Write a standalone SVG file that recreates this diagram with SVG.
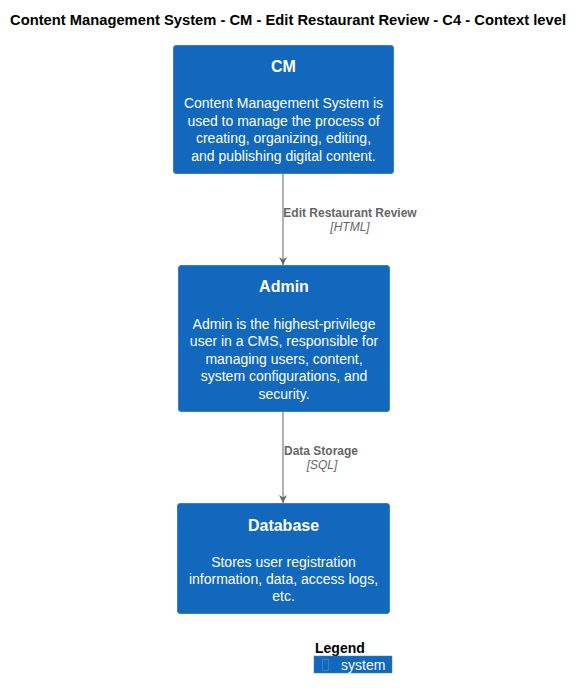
<svg xmlns="http://www.w3.org/2000/svg" width="583" height="699" viewBox="0 0 583 699">
<defs>
<style>
.box{fill:#1168BD;stroke:#3C7FC0;stroke-width:1}
.t{font-family:"Liberation Sans",Arial,sans-serif;fill:#FFFFFF;text-anchor:middle}
.h{font-size:16px;font-weight:bold}
.d{font-size:14px}
.e{stroke:#666666;stroke-width:1;fill:none}
.lbl{font-family:"Liberation Sans",Arial,sans-serif;fill:#666666;font-size:12px;text-anchor:middle}
</style>
<marker id="arr" viewBox="0 0 10 10" refX="10" refY="5" markerWidth="8" markerHeight="10" markerUnits="userSpaceOnUse" orient="auto">
<path d="M0,0 L10,5 L0,10 L3,5 Z" fill="#666666"/>
</marker>
</defs>
<rect width="583" height="699" fill="#FFFFFF"/>
<text x="288" y="24.5" font-family="Liberation Sans,Arial,sans-serif" font-size="14.5" font-weight="bold" text-anchor="middle" fill="#000000" textLength="556" lengthAdjust="spacingAndGlyphs">Content Management System - CM - Edit Restaurant Review - C4 - Context level</text>
<g id="connectors">
<path class="e" d="M283,173 L283,265" marker-end="url(#arr)"/>
<text class="lbl" x="350" y="217" font-weight="bold">Edit Restaurant Review</text>
<text class="lbl" x="350" y="231" font-style="italic">[HTML]</text>
<path class="e" d="M283,412 L283,503" marker-end="url(#arr)"/>
<text class="lbl" x="321" y="455" font-weight="bold">Data Storage</text>
<text class="lbl" x="322" y="469" font-style="italic">[SQL]</text>
</g>
<g id="cm">
<rect class="box" x="173.5" y="45.5" width="220" height="128" rx="2.5"/>
<text class="t h" x="283.5" y="72">CM</text>
<text class="t d" x="283.5" y="108">Content Management System is</text>
<text class="t d" x="283.5" y="126">used to manage the process of</text>
<text class="t d" x="283.5" y="143">creating, organizing, editing,</text>
<text class="t d" x="283.5" y="161">and publishing digital content.</text>
</g>
<g id="admin">
<rect class="box" x="178.5" y="265.5" width="211" height="146" rx="2.5"/>
<text class="t h" x="284" y="292">Admin</text>
<text class="t d" x="284" y="328.5">Admin is the highest-privilege</text>
<text class="t d" x="284" y="346">user in a CMS, responsible for</text>
<text class="t d" x="284" y="363.5">managing users, content,</text>
<text class="t d" x="284" y="381">system configurations, and</text>
<text class="t d" x="284" y="398.5">security.</text>
</g>
<g id="database">
<rect class="box" x="177.5" y="503.5" width="212" height="110" rx="2.5"/>
<text class="t h" x="283.5" y="531">Database</text>
<text class="t d" x="283.5" y="567">Stores user registration</text>
<text class="t d" x="283.5" y="584">information, data, access logs,</text>
<text class="t d" x="283.5" y="601">etc.</text>
</g>
<g id="legend">
<text x="315" y="653" font-family="Liberation Sans,Arial,sans-serif" font-size="14" font-weight="bold" fill="#000000">Legend</text>
<rect x="314" y="656" width="78" height="17" fill="#1168BD" stroke="#3C7FC0" stroke-width="0.5"/>
<rect x="322.5" y="659.5" width="6" height="11" fill="none" stroke="#3C7FC0" stroke-width="1"/>
<text x="341" y="669.5" font-family="Liberation Sans,Arial,sans-serif" font-size="14" fill="#FFFFFF">system</text>
</g>
</svg>
